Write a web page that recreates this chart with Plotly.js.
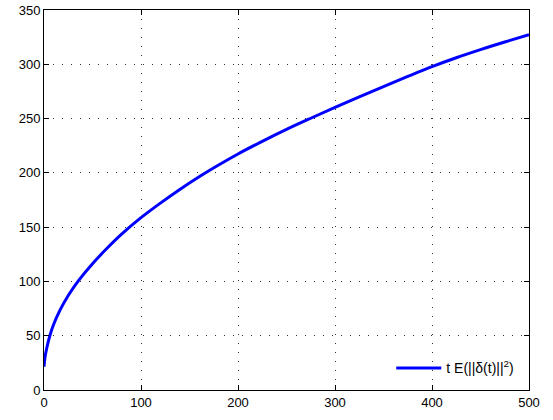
<!DOCTYPE html>
<html>
<head>
<meta charset="utf-8">
<script src="https://cdn.plot.ly/plotly-3.0.1.min.js"></script>
<style>
html,body{margin:0;padding:0;background:#fff;}
#chart{width:553px;height:420px;}
</style>
</head>
<body>
<div id="chart"></div>
<script>
// Values
var tValues = [0, 1, 2.7, 6, 10, 16.5, 25, 35.4, 50, 65, 80, 100, 120, 140, 162, 180, 200, 225, 250, 275, 300, 325, 350, 375, 400, 425, 450, 475, 500];
var errValues = [21.5, 30, 38, 50, 60.5, 73.5, 87, 100.5, 116.3, 130.5, 143.5, 158.7, 172.1, 184.7, 197.5, 207.2, 217.4, 229, 240, 250.3, 260.3, 270, 279.5, 288.8, 297.8, 306, 313.5, 320.5, 327.2];
var seriesName = 't E(||δ(t)||<sup>2</sup>)';
var xTicks = [0, 100, 200, 300, 400, 500];
var yTicks = [0, 50, 100, 150, 200, 250, 300, 350];

var trace = {
  x: tValues,
  y: errValues,
  type: 'scatter',
  mode: 'lines',
  name: seriesName,
  line: {color: '#0000ff', width: 3, shape: 'spline', smoothing: 1}
};

var axisCommon = {
  showline: true,
  linecolor: '#000',
  linewidth: 1,
  mirror: 'ticks',
  ticks: 'inside',
  ticklen: 5,
  tickcolor: '#000',
  tickwidth: 1,
  showgrid: true,
  gridcolor: '#333',
  gridwidth: 1,
  griddash: '1px,8px',
  zeroline: false,
  tickfont: {family: 'Liberation Sans, Arial, sans-serif', size: 13, color: '#000'}
};

var layout = {
  width: 553,
  height: 420,
  margin: {l: 44, r: 24, t: 10, b: 30},
  paper_bgcolor: '#fff',
  plot_bgcolor: '#fff',
  showlegend: true,
  legend: {
    x: 0.716, y: 0.015, xanchor: 'left', yanchor: 'bottom',
    bgcolor: 'rgba(0,0,0,0)', borderwidth: 0,
    itemwidth: 45,
    font: {family: 'Liberation Sans, Arial, sans-serif', size: 14, color: '#000'}
  },
  xaxis: Object.assign({}, axisCommon, {range: [0, 500], tickvals: xTicks, ticktext: xTicks.map(String)}),
  yaxis: Object.assign({}, axisCommon, {range: [0, 350], tickvals: yTicks, ticktext: yTicks.map(String)})
};

Plotly.newPlot('chart', [trace], layout, {displayModeBar: false, staticPlot: true});
</script>
</body>
</html>
